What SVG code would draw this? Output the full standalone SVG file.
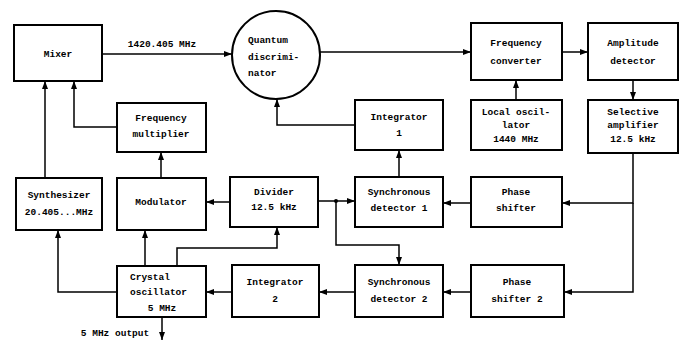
<svg xmlns="http://www.w3.org/2000/svg" width="683" height="341" viewBox="0 0 683 341">
<defs>
<style>
.box{fill:#fff;stroke:#000;stroke-width:2}
.ln{fill:none;stroke:#000;stroke-width:1.5}
text{font-family:"Liberation Mono","DejaVu Sans Mono",monospace;font-size:9.5px;font-weight:bold;fill:#000}
.c{text-anchor:middle}
</style>
<marker id="ah" viewBox="0 0 8 6" refX="8" refY="3" markerWidth="8" markerHeight="6" markerUnits="userSpaceOnUse" orient="auto">
<path d="M0,0 L8,3 L0,6 Z" fill="#000"/>
</marker>
</defs>
<rect width="683" height="341" fill="#fff"/>
<g id="connectors">
<path class="ln" d="M102,54 H232" marker-end="url(#ah)"/>
<path class="ln" d="M320,52 H471" marker-end="url(#ah)"/>
<path class="ln" d="M562,52 H588" marker-end="url(#ah)"/>
<path class="ln" d="M516,100 V80" marker-end="url(#ah)"/>
<path class="ln" d="M633,80 V100" marker-end="url(#ah)"/>
<path class="ln" d="M633,153 V203 H562" marker-end="url(#ah)"/>
<path class="ln" d="M633,203 V292 H564" marker-end="url(#ah)"/>
<path class="ln" d="M471,203 H443" marker-end="url(#ah)"/>
<path class="ln" d="M471,292 H443" marker-end="url(#ah)"/>
<path class="ln" d="M399,177 V150" marker-end="url(#ah)"/>
<path class="ln" d="M355,125 H277 V99" marker-end="url(#ah)"/>
<path class="ln" d="M318,201 H355" marker-end="url(#ah)"/>
<path class="ln" d="M336,201 V245 H399 V265" marker-end="url(#ah)"/>
<circle cx="336" cy="201" r="2"/>
<path class="ln" d="M355,292 H319" marker-end="url(#ah)"/>
<path class="ln" d="M232,292 H206" marker-end="url(#ah)"/>
<path class="ln" d="M177,266 V248 H277 V227" marker-end="url(#ah)"/>
<path class="ln" d="M145,266 V230" marker-end="url(#ah)"/>
<path class="ln" d="M117,292 H58 V230" marker-end="url(#ah)"/>
<path class="ln" d="M162,317 V340" marker-end="url(#ah)"/>
<path class="ln" d="M230,202 H206" marker-end="url(#ah)"/>
<path class="ln" d="M161,178 V152" marker-end="url(#ah)"/>
<path class="ln" d="M45,178 V81" marker-end="url(#ah)"/>
<path class="ln" d="M117,127 H74 V81" marker-end="url(#ah)"/>
<text x="162" y="47" class="c">1420.405 MHz</text>
<text x="115" y="336" class="c">5 MHz output</text>
</g>
<g id="mixer"><rect class="box" x="14" y="25" width="88" height="56"/><text x="58" y="57" class="c">Mixer</text></g>
<g id="quantum"><circle class="box" cx="276" cy="55" r="44"/><text x="248" y="43">Quantum</text><text x="248" y="60">discrimi-</text><text x="248" y="76">nator</text></g>
<g id="freqconv"><rect class="box" x="471" y="23" width="91" height="57"/><text x="516" y="46" class="c">Frequency</text><text x="516" y="64" class="c">converter</text></g>
<g id="ampdet"><rect class="box" x="588" y="23" width="90" height="57"/><text x="633" y="46" class="c">Amplitude</text><text x="633" y="64" class="c">detector</text></g>
<g id="freqmult"><rect class="box" x="117" y="103" width="89" height="49"/><text x="161" y="121" class="c">Frequency</text><text x="161" y="137" class="c">multiplier</text></g>
<g id="integ1"><rect class="box" x="355" y="100" width="88" height="50"/><text x="399" y="120" class="c">Integrator</text><text x="399" y="136" class="c">1</text></g>
<g id="localosc"><rect class="box" x="471" y="100" width="91" height="50"/><text x="516" y="115" class="c">Local oscil-</text><text x="516" y="128" class="c">lator</text><text x="516" y="142" class="c">1440 MHz</text></g>
<g id="selamp"><rect class="box" x="588" y="100" width="90" height="53"/><text x="633" y="115" class="c">Selective</text><text x="633" y="128" class="c">amplifier</text><text x="633" y="142" class="c">12.5 kHz</text></g>
<g id="synth"><rect class="box" x="16" y="178" width="86" height="52"/><text x="59" y="198" class="c">Synthesizer</text><text x="59" y="215" class="c">20.405...MHz</text></g>
<g id="modulator"><rect class="box" x="117" y="178" width="89" height="52"/><text x="161" y="205" class="c">Modulator</text></g>
<g id="divider"><rect class="box" x="230" y="177" width="88" height="50"/><text x="274" y="195" class="c">Divider</text><text x="274" y="210" class="c">12.5 kHz</text></g>
<g id="syncdet1"><rect class="box" x="355" y="177" width="88" height="50"/><text x="399" y="195" class="c">Synchronous</text><text x="399" y="211" class="c">detector 1</text></g>
<g id="phase1"><rect class="box" x="471" y="177" width="91" height="50"/><text x="516" y="195" class="c">Phase</text><text x="516" y="211" class="c">shifter</text></g>
<g id="crystal"><rect class="box" x="117" y="266" width="89" height="51"/><text x="130" y="280">Crystal</text><text x="130" y="295">oscillator</text><text x="162" y="311" class="c">5 MHz</text></g>
<g id="integ2"><rect class="box" x="232" y="265" width="87" height="52"/><text x="275" y="285" class="c">Integrator</text><text x="275" y="302" class="c">2</text></g>
<g id="syncdet2"><rect class="box" x="355" y="265" width="88" height="52"/><text x="399" y="285" class="c">Synchronous</text><text x="399" y="302" class="c">detector 2</text></g>
<g id="phase2"><rect class="box" x="471" y="265" width="93" height="52"/><text x="517" y="285" class="c">Phase</text><text x="517" y="302" class="c">shifter 2</text></g>
</svg>
